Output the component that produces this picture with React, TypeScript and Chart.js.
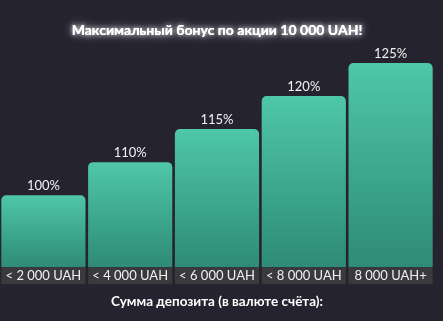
import React, { useEffect, useRef } from "react";
import { Chart, registerables } from "chart.js";

Chart.register(...registerables);

const categories = ["< 2 000 UAH", "< 4 000 UAH", "< 6 000 UAH", "< 8 000 UAH", "8 000 UAH+"];
const bonusLabels = ["100%", "110%", "115%", "120%", "125%"];
const tierLevels = [1, 2, 3, 4, 5];
const chartTitle = "Максимальный бонус по акции 10 000 UAH!";
const xAxisTitle = "Сумма депозита (в валюте счёта):";

const FONT = "Lato, 'Noto Sans', sans-serif";
const BG = "#25232f";
const AXIS_MIN = -1.18;

const decorPlugin = {
  id: "decor",
  beforeDraw(chart: any) {
    const { ctx, chartArea } = chart;
    const meta = chart.getDatasetMeta(0);
    ctx.save();
    ctx.fillStyle = "#3a393d";
    meta.data.forEach((bar: any) => {
      const w = bar.width;
      ctx.fillRect(bar.x - w / 2, chartArea.bottom, w, 17);
    });
    ctx.restore();
  },
  afterDatasetsDraw(chart: any) {
    const { ctx } = chart;
    const meta = chart.getDatasetMeta(0);
    ctx.save();
    ctx.fillStyle = "#f2f2f2";
    ctx.font = `13px ${FONT}`;
    ctx.textAlign = "center";
    ctx.textBaseline = "bottom";
    meta.data.forEach((bar: any, i: number) => {
      ctx.fillText(bonusLabels[i], bar.x, bar.y - 3);
    });
    ctx.restore();
  },
  afterDraw(chart: any) {
    const { ctx, chartArea } = chart;
    ctx.save();
    ctx.font = `bold 14px ${FONT}`;
    ctx.textAlign = "center";
    ctx.textBaseline = "middle";
    ctx.fillStyle = "#ffffff";
    ctx.shadowColor = "rgba(255,255,255,0.85)";
    ctx.shadowBlur = 10;
    const cx = (chartArea.left + chartArea.right) / 2;
    ctx.fillText(chartTitle, cx, 30);
    ctx.shadowBlur = 4;
    ctx.fillText(chartTitle, cx, 30);
    ctx.restore();
  },
};

export default function App() {
  const ref = useRef<HTMLCanvasElement>(null);
  useEffect(() => {
    document.body.style.margin = "0";
    document.body.style.background = BG;
    const chart = new Chart(ref.current!, {
      type: "bar",
      data: {
        labels: categories,
        datasets: [
          {
            data: tierLevels,
            base: AXIS_MIN,
            backgroundColor: (c: any) => {
              const ch = c.chart;
              if (!ch.chartArea || c.type !== "data") return "#3fae94";
              const top = ch.scales.y.getPixelForValue(c.raw);
              const bottom = ch.chartArea.bottom;
              const g = ch.ctx.createLinearGradient(0, top, 0, bottom);
              g.addColorStop(0, "#4fc7a9");
              g.addColorStop(1, "#2e8b77");
              return g;
            },
            borderWidth: 0,
            borderRadius: { topLeft: 5, topRight: 5, bottomLeft: 0, bottomRight: 0 },
            borderSkipped: false,
            barPercentage: 0.97,
            categoryPercentage: 1,
          } as any,
        ],
      },
      options: {
        animation: false,
        responsive: true,
        maintainAspectRatio: false,
        layout: { padding: { top: 63, left: 0, right: 9, bottom: 3 } },
        plugins: {
          legend: { display: false },
          title: { display: false },
          tooltip: { enabled: false },
        },
        scales: {
          y: { display: false, min: AXIS_MIN, max: 5 },
          x: {
            grid: { display: false, drawTicks: false },
            border: { display: false },
            ticks: {
              color: "#f0f0f0",
              font: { family: FONT, size: 13 },
              padding: 1,
              maxRotation: 0,
              autoSkip: false,
            },
            title: {
              display: true,
              text: xAxisTitle,
              color: "#ffffff",
              font: { family: FONT, size: 13.5, weight: "bold" },
              padding: { top: 9, bottom: 8 },
            },
          },
        },
      },
      plugins: [decorPlugin],
    });
    return () => chart.destroy();
  }, []);
  return (
    <div style={{ position: "fixed", left: 0, top: 0, width: 443, height: 321, background: BG }}>
      <canvas ref={ref} />
    </div>
  );
}
